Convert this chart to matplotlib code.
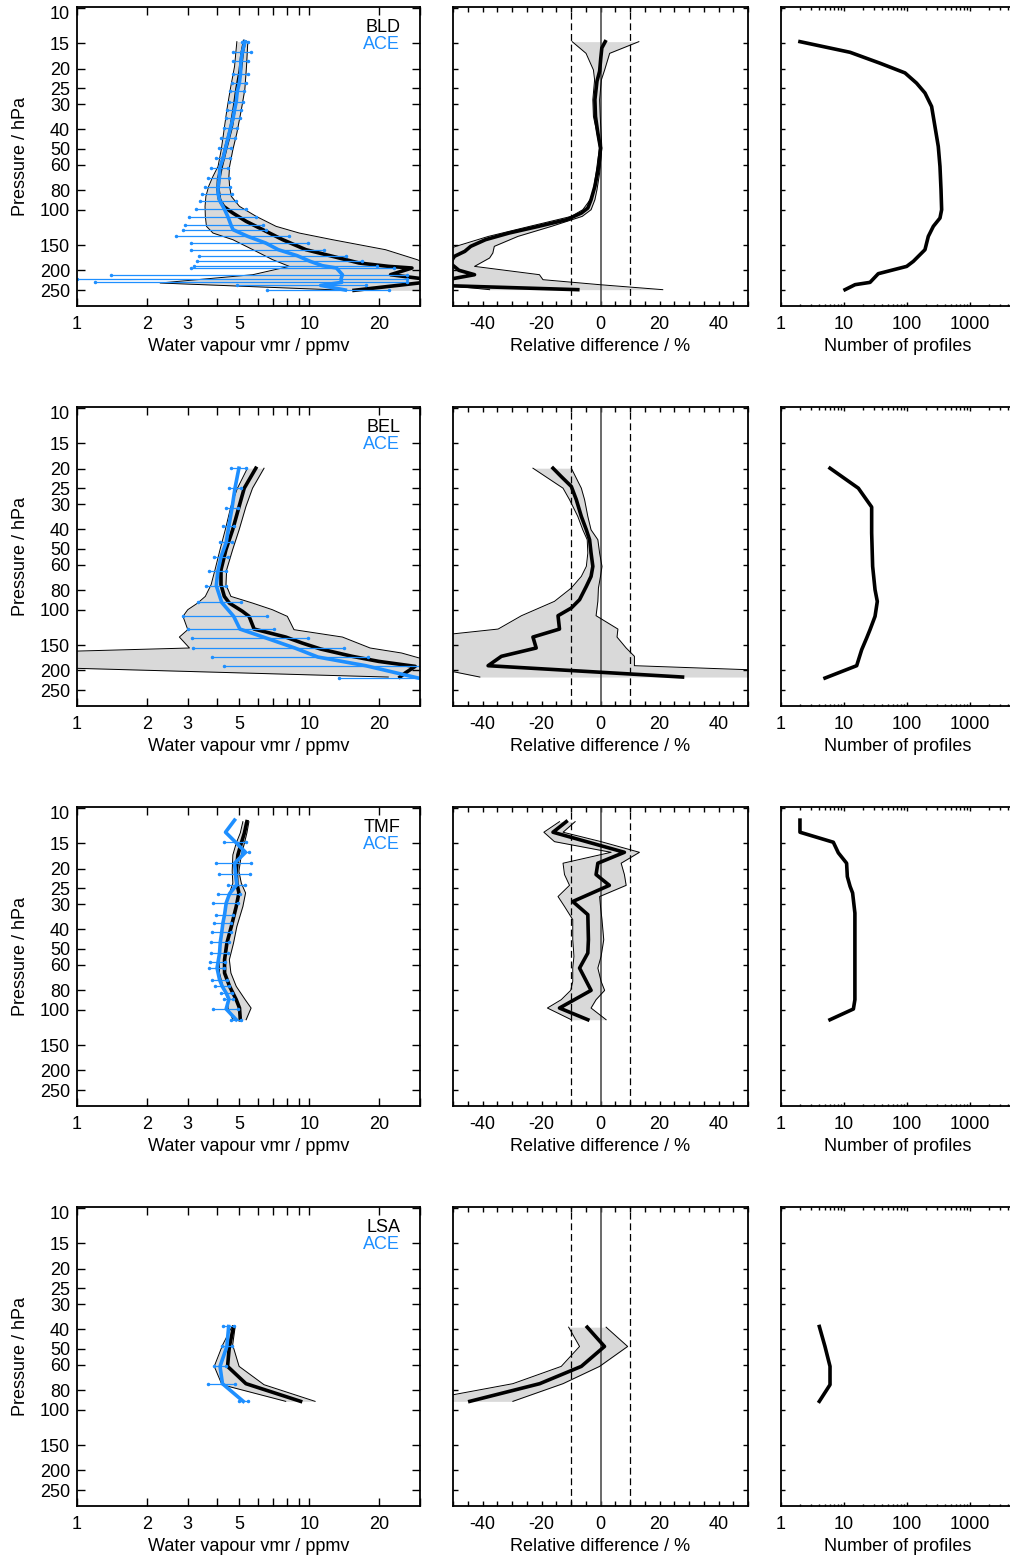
"""
Ground-based vs ACE water vapour comparison: mean profiles, relative
differences and number of coincident profiles for four stations.
"""
import matplotlib
matplotlib.use("Agg")
import matplotlib.pyplot as plt
from matplotlib.ticker import FixedLocator, FixedFormatter, NullLocator, NullFormatter

plt.rcParams.update({"font.family": ["Liberation Sans", "DejaVu Sans"], "font.size": 13})

BLUE = "#1e8fff"
GREY = "#d9d9d9"

# ---- BLD -----------------------------------------------------------------
bld_p = [14.7, 16.8, 20.3, 25.4, 30.8, 38.7, 48.6, 61.0, 71.0, 79.6, 89.2, 96.3, 103.9, 114.2,
         125.6, 140.8, 157.8, 170.2, 183.7, 190.9, 194.5, 209.9, 225.0, 250.9]
bld_vmr = [5.26, 5.14, 5.05, 4.88, 4.77, 4.62, 4.39, 4.18, 4.07, 4.05, 4.11, 4.28, 4.69, 5.35,
           6.31, 7.69, 9.68, 12.6, 16.4, 22.0, 27.7, 22.4, 36.0, 15.6]
bld_band_p = [14.7, 19.5, 25.4, 32.0, 41.7, 50.4, 61.0, 68.4, 76.6, 85.9, 96.3, 107.9, 120.9,
              130.5, 140.8, 157.8, 176.9, 190.9, 209.9, 230.8, 250.9]
bld_band_lo = [4.88, 4.77, 4.57, 4.42, 4.28, 4.18, 4.05, 3.85, 3.69, 3.59, 3.56, 3.57, 3.61,
               3.85, 4.69, 5.72, 6.96, 8.21, 5.72, 2.28, 14.5]
bld_band_hi = [5.44, 5.37, 5.28, 5.10, 4.88, 4.69, 4.54, 4.51, 4.54, 4.62, 5.01, 5.91, 7.2,
               9.06, 12.6, 21.3, 29.2, 34.0, 40.0, 40.0, 38.0]
bld_ace_p = [14.7, 16.6, 18.4, 21.2, 23.6, 25.9, 29.1, 32.0, 35.2, 39.4, 44.2, 49.5, 55.5, 62.2,
             69.7, 77.2, 83.3, 90.2, 99.2, 108.7, 119.6, 125.6, 135.6, 146.3, 157.8, 169.0,
             180.3, 189.4, 194.5, 209.9, 220.5, 229.1, 237.1, 250.0]
bld_ace_vmr = [5.29, 5.15, 5.08, 5.06, 5.0, 4.9, 4.85, 4.77, 4.70, 4.58, 4.47, 4.36, 4.26, 4.12,
               4.1, 4.05, 4.05, 4.12, 4.31, 4.47, 4.61, 4.7, 5.44, 6.5, 7.36, 8.88, 10.1, 11.4,
               13.1, 13.9, 13.7, 13.8, 11.2, 14.3]
bld_ace_sd = [0.15, 0.47, 0.36, 0.37, 0.35, 0.36, 0.33, 0.33, 0.31, 0.30, 0.30, 0.26, 0.28, 0.33,
              0.43, 0.5, 0.58, 0.72, 1.04, 1.43, 1.7, 1.83, 2.77, 3.4, 4.25, 5.52, 6.8, 8.2,
              10.0, 12.5, 12.7, 12.6, 6.3, 7.7]
bld_diff_p = [14.7, 15.8, 17.7, 20.6, 23.1, 28.5, 34.5, 41.7, 49.5, 61.0, 76.6, 89.2, 98.1, 103.9,
              112.1, 120.9, 130.5, 140.8, 151.9, 160.8, 170.2, 183.7, 199.6, 209.9, 222.2,
              237.9, 249.0]
bld_diff = [1.6, 0.45, 0.1, -0.3, -1.2, -1.9, -1.7, -0.9, 0.0, -0.6, -1.9, -3.2, -4.3, -6.5,
            -11.5, -21.0, -31.0, -39.0, -44.0, -46.0, -49.5, -51.0, -48.0, -42.7, -52.0, -52.0,
            -7.7]
bld_dband_p = [14.7, 16.8, 20.3, 22.7, 28.5, 34.5, 41.7, 49.5, 56.5, 65.8, 79.6, 89.2, 100.0,
               107.9, 120.9, 135.6, 151.9, 163.9, 173.5, 190.9, 209.9, 222.2, 235.2, 249.0]
bld_dband_lo = [-9.6, -4.9, -2.4, -2.0, -2.6, -2.4, -1.2, -0.3, -0.9, -1.5, -2.4, -3.5, -6.0,
                -9.9, -24.0, -38.0, -49.0, -55, -55, -55, -55, -55, -55, -37.6]
bld_dband_hi = [13.0, 3.1, 1.4, 0.3, -0.3, -0.1, 0.2, 0.45, 0.1, -0.3, -1.2, -1.9, -3.2, -6.2,
                -16.6, -28.0, -36.0, -36.5, -37.6, -42.7, -20.7, -19.5, -0.3, 21.1]
bld_n_p = [14.7, 16.6, 18.8, 21.0, 23.6, 26.4, 30.8, 38.7, 48.6, 61.0, 79.6, 100.0, 110.0, 120.9,
           135.6, 157.8, 167.0, 180.3, 190.9, 207.5, 229.1, 235.2, 249.0]
bld_n = [2.0, 12.5, 37.3, 93, 142, 193, 246, 278, 314, 334, 347, 355, 334, 262, 218, 193, 161,
         126, 99, 35, 25.9, 15, 10.4]

# ---- BEL -----------------------------------------------------------------
bel_p = [19.9, 25.0, 30.8, 40.2, 50.4, 63.4, 75.2, 85.9, 92.7, 101.9, 107.9, 124.7, 136.6, 146.3,
         156.6, 170.2, 180.3, 190.9, 205.9, 215.6]
bel_vmr = [5.89, 5.25, 4.99, 4.68, 4.38, 4.17, 4.17, 4.31, 4.53, 5.16, 5.51, 5.79, 7.92, 9.33,
           11.2, 15.3, 19.9, 28.6, 25.9, 24.6]
bel_band_p = [19.9, 25.0, 30.8, 40.2, 50.4, 63.4, 75.2, 85.9, 92.7, 100.0, 107.9, 125.6, 136.6,
              154.8, 163.9, 190.9, 215.6]
bel_band_lo = [5.42, 4.91, 4.60, 4.35, 4.13, 3.93, 3.78, 3.57, 3.31, 3.0, 2.86, 3.0, 2.76, 3.05,
               0.5, 0.5, 21.9]
bel_band_hi = [6.39, 5.70, 5.34, 4.99, 4.68, 4.41, 4.38, 4.60, 5.70, 6.94, 8.05, 8.60, 13.9, 18.3,
               25.0, 40.0, 40.0]
bel_ace_p = [19.9, 25.0, 31.4, 38.4, 46.4, 54.8, 64.6, 76.1, 92.0, 107.9, 124.7, 138.1, 154.8,
             171.6, 189.4, 218.1]
bel_ace_vmr = [4.98, 4.79, 4.65, 4.51, 4.39, 4.17, 4.04, 3.98, 4.2, 4.73, 5.03, 6.52, 8.67, 10.9,
               17.5, 29.5]
bel_ace_sd = [0.36, 0.29, 0.27, 0.24, 0.26, 0.29, 0.35, 0.4, 0.89, 1.87, 2.03, 3.39, 5.5, 7.1,
              13.2, 16.0]
bel_diff_p = [19.9, 21.9, 24.5, 28.5, 34.5, 40.2, 45.0, 52.4, 61.0, 68.4, 76.6, 89.2, 98.1, 107.1,
              124.7, 136.6, 154.8, 170.2, 189.4, 215.6]
bel_diff = [-16.1, -13.3, -9.9, -8.2, -6.5, -4.8, -3.7, -3.2, -2.6, -3.2, -4.8, -7.1, -9.9, -14.4,
            -13.9, -22.9, -21.8, -33.6, -38.1, 27.8]
bel_dband_p = [19.9, 25.0, 28.5, 34.5, 40.2, 45.0, 52.4, 61.0, 68.4, 78.1, 90.9, 107.1, 124.7,
               136.6, 154.8, 170.2, 189.4, 215.6]
bel_dband_lo = [-22.9, -12.7, -10.5, -7.7, -6.0, -4.5, -4.3, -4.8, -6.5, -9.9, -15.6, -26.8,
                -34.7, -60, -60, -60, -60, -40.9]
bel_dband_hi = [-9.9, -6.5, -5.4, -4.3, -3.2, -0.9, -0.3, 0.5, 0.0, -0.7, -0.9, -1.5, 5.9, 5.6,
                8.7, 11.5, 11.5, 120]
bel_n_p = [19.9, 25.0, 31.0, 41.7, 61.0, 79.6, 91.0, 107.9, 125.6, 138.1, 157.8, 189.4, 218.1]
bel_n = [6.0, 16.9, 27.5, 27.5, 28.5, 31.1, 33.8, 31.1, 25.9, 22.9, 19.1, 15.9, 5.0]

# ---- TMF -----------------------------------------------------------------
tmf_p = [11.7, 13.3, 14.95, 17.1, 20.6, 23.6, 26.4, 30.8, 38.7, 46.8, 56.5, 65.8, 76.6, 89.2,
         98.1, 112.1]
tmf_vmr = [5.39, 5.26, 5.10, 4.93, 4.85, 4.88, 4.98, 4.85, 4.62, 4.42, 4.32, 4.32, 4.54, 4.85,
           5.01, 5.05]
tmf_band_p = [11.7, 13.3, 14.95, 17.1, 20.6, 23.6, 26.4, 30.8, 38.7, 46.8, 56.5, 65.8, 76.6, 89.2,
              98.1, 112.1]
tmf_band_lo = [5.18, 5.05, 4.85, 4.69, 4.66, 4.69, 4.54, 4.39, 4.25, 4.14, 4.09, 4.11, 4.25, 4.47,
               4.47, 4.69]
tmf_band_hi = [5.50, 5.39, 5.26, 5.10, 4.98, 5.10, 5.32, 5.18, 4.88, 4.72, 4.53, 4.6, 4.85, 5.3,
               5.62, 5.35]
tmf_ace_p = [11.5, 13.2, 14.8, 16.6, 18.8, 21.2, 24.0, 26.6, 29.6, 33.8, 37.2, 41.4, 46.4, 52.4,
             58.0, 62.2, 71.0, 76.6, 82.7, 88.5, 99.2, 112.1]
tmf_ace_vmr = [4.77, 4.36, 4.82, 5.32, 4.77, 4.82, 4.88, 4.54, 4.39, 4.32, 4.25, 4.20, 4.14, 4.11,
               4.05, 4.01, 4.11, 4.22, 4.39, 4.51, 4.39, 4.85]
tmf_ace_sd = [0.0, 0.0, 0.54, 0.2, 0.82, 0.74, 0.42, 0.51, 0.53, 0.36, 0.37, 0.4, 0.37, 0.35, 0.3,
              0.3, 0.3, 0.28, 0.24, 0.2, 0.55, 0.23]
tmf_diff_p = [11.7, 13.2, 16.6, 18.8, 21.4, 24.2, 29.1, 33.8, 45.0, 52.4, 62.2, 80.2, 98.1, 112.1]
tmf_diff = [-11.6, -16.1, 8.1, -0.9, -1.5, 3.0, -9.4, -4.3, -4.1, -4.3, -7.1, -3.2, -13.9, -4.3]
tmf_dband_p = [11.7, 13.2, 14.7, 16.6, 18.8, 21.4, 24.2, 27.5, 30.8, 35.8, 45.0, 54.4, 62.2, 72.4,
               80.2, 89.2, 98.1, 112.1]
tmf_dband_lo = [-13.9, -19.2, -15.6, 3.6, -12.7, -12.2, -10.5, -14.4, -12.2, -9.4, -9.4, -9.0,
                -9.4, -9.4, -10.1, -13.3, -18.0, -9.9]
tmf_dband_hi = [-8.6, -12.7, 0.2, 13.2, 7.0, 8.1, 8.7, -0.3, 0.0, 0.5, 1.1, 0.2, -0.9, 0.2, 1.4,
                -1.5, -3.2, 1.9]
tmf_n_p = [11.5, 13.2, 14.8, 16.7, 18.8, 21.9, 24.5, 26.4, 33.2, 41.7, 61.0, 89.2, 99.2, 112.1]
tmf_n = [2.0, 2.0, 6.77, 8.13, 11.0, 11.3, 12.5, 13.7, 14.9, 14.9, 14.9, 14.9, 14.1, 6.0]

# ---- LSA -----------------------------------------------------------------
lsa_p = [39.0, 48.6, 61.0, 74.3, 90.9]
lsa_vmr = [4.72, 4.53, 4.45, 5.34, 9.18]
lsa_band_p = [38.7, 47.7, 61.0, 75.2, 90.9]
lsa_band_lo = [4.65, 4.24, 3.90, 4.21, 7.92]
lsa_band_hi = [4.80, 4.68, 4.99, 6.39, 10.6]
lsa_ace_p = [38.7, 48.6, 61.0, 74.3, 90.9]
lsa_ace_vmr = [4.5, 4.42, 4.13, 4.23, 5.2]
lsa_ace_sd = [0.26, 0.21, 0.25, 0.57, 0.23]
lsa_diff_p = [39.0, 48.6, 61.0, 74.3, 90.9]
lsa_diff = [-4.5, 1.35, -6.5, -20.6, -44.3]
lsa_dband_p = [39.0, 48.6, 61.0, 74.3, 90.9]
lsa_dband_lo = [-10.8, -7.1, -13.3, -29.7, -62]
lsa_dband_hi = [1.9, 9.2, -0.3, -12.7, -29.7]
lsa_n_p = [38.7, 48.6, 61.0, 75.2, 90.9]
lsa_n = [4.06, 4.99, 6.0, 6.0, 4.06]

stations = [
    ("BLD", bld_p, bld_vmr, bld_band_p, bld_band_lo, bld_band_hi, bld_ace_p, bld_ace_vmr, bld_ace_sd,
     bld_diff_p, bld_diff, bld_dband_p, bld_dband_lo, bld_dband_hi, bld_n_p, bld_n),
    ("BEL", bel_p, bel_vmr, bel_band_p, bel_band_lo, bel_band_hi, bel_ace_p, bel_ace_vmr, bel_ace_sd,
     bel_diff_p, bel_diff, bel_dband_p, bel_dband_lo, bel_dband_hi, bel_n_p, bel_n),
    ("TMF", tmf_p, tmf_vmr, tmf_band_p, tmf_band_lo, tmf_band_hi, tmf_ace_p, tmf_ace_vmr, tmf_ace_sd,
     tmf_diff_p, tmf_diff, tmf_dband_p, tmf_dband_lo, tmf_dband_hi, tmf_n_p, tmf_n),
    ("LSA", lsa_p, lsa_vmr, lsa_band_p, lsa_band_lo, lsa_band_hi, lsa_ace_p, lsa_ace_vmr, lsa_ace_sd,
     lsa_diff_p, lsa_diff, lsa_dband_p, lsa_dband_lo, lsa_dband_hi, lsa_n_p, lsa_n),
]

p_ticks = [10, 15, 20, 25, 30, 40, 50, 60, 80, 100, 150, 200, 250]
vmr_ticks = [1, 2, 3, 4, 5, 6, 7, 8, 9, 10, 20, 30]
vmr_labels = ["1", "2", "3", "", "5", "", "", "", "", "10", "20", ""]
diff_ticks = list(range(-50, 55, 5))
diff_labels = [str(t) if t in (-40, -20, 0, 20, 40) else "" for t in diff_ticks]
n_ticks = [1, 10, 100, 1000]
n_minor = [m * 10 ** e for e in range(4) for m in range(2, 10)]

W, H = 1010, 1557
fig = plt.figure(figsize=(W / 100, H / 100), dpi=100)


def add_ax(x0, y0, w, h):
    return fig.add_axes([x0 / W, 1 - (y0 + h) / H, w / W, h / H])


def style(ax, tick_len, ylabels):
    ax.set_yscale("log")
    ax.set_ylim(300, 9.9)
    ax.yaxis.set_major_locator(FixedLocator(p_ticks))
    ax.yaxis.set_minor_locator(NullLocator())
    if ylabels:
        # the top label "10" sits a little below its tick, drawn separately
        ax.yaxis.set_major_formatter(FixedFormatter([""] + [str(t) for t in p_ticks[1:]]))
        ax.annotate("10", xy=(0, p_ticks[0]), xycoords=("axes fraction", "data"),
                    xytext=(-5, -4.5), textcoords="offset points", ha="right", va="center")
        ax.set_ylabel("Pressure / hPa", labelpad=8)
    else:
        ax.yaxis.set_major_formatter(NullFormatter())
    ax.tick_params(which="both", direction="in", top=True, right=True, width=1.0)
    ax.tick_params(which="major", length=tick_len)
    ax.tick_params(axis="x", pad=7.5)
    ax.tick_params(axis="y", pad=5)
    for s in ax.spines.values():
        s.set_linewidth(1.3)


for i, (name, gp, gv, bp, blo, bhi, ap, av, asd, dp, dv, dbp, dblo, dbhi, npr, nv) in enumerate(stations):
    top = 7 + 400 * i

    # water vapour profiles
    ax = add_ax(77, top, 343, 299)
    ax.set_xscale("log")
    ax.set_xlim(1, 30)
    ax.xaxis.set_major_locator(FixedLocator(vmr_ticks))
    ax.xaxis.set_major_formatter(FixedFormatter(vmr_labels))
    ax.xaxis.set_minor_locator(NullLocator())
    style(ax, 5.8, True)
    ax.fill_betweenx(bp, blo, bhi, color=GREY, lw=0)
    ax.plot(blo, bp, color="k", lw=0.7)
    ax.plot(bhi, bp, color="k", lw=0.7)
    ax.plot(gv, gp, color="k", lw=2.6)
    bars = [(p, m - s, m + s) for p, m, s in zip(ap, av, asd) if s > 0]
    ax.hlines([b[0] for b in bars], [b[1] for b in bars], [b[2] for b in bars], color=BLUE, lw=0.9)
    ax.plot([b[1] for b in bars] + [b[2] for b in bars], [b[0] for b in bars] * 2,
            ls="none", marker="o", ms=1.5, color=BLUE)
    ax.plot(av, ap, color=BLUE, lw=2.6)
    ax.text(0.942, 0.933, name, transform=ax.transAxes, ha="right", va="center", color="k")
    ax.text(0.942, 0.876, "ACE", transform=ax.transAxes, ha="right", va="center", color=BLUE)
    ax.set_xlabel("Water vapour vmr / ppmv", labelpad=3)

    # relative difference
    ax = add_ax(453, top, 295, 299)
    ax.set_xlim(-50, 50)
    ax.xaxis.set_major_locator(FixedLocator(diff_ticks))
    ax.xaxis.set_major_formatter(FixedFormatter(diff_labels))
    style(ax, 3.6, False)
    ax.fill_betweenx(dbp, dblo, dbhi, color=GREY, lw=0)
    ax.axvline(0, color="#505050", lw=1.2)
    ax.axvline(-10, color="k", lw=0.9, ls=(0, (5.5, 3)))
    ax.axvline(10, color="k", lw=0.9, ls=(0, (5.5, 3)))
    ax.plot(dblo, dbp, color="k", lw=0.7)
    ax.plot(dbhi, dbp, color="k", lw=0.7)
    ax.plot(dv, dp, color="k", lw=2.6)
    ax.set_xlabel("Relative difference / %", labelpad=3)

    # number of profiles
    ax = add_ax(781, top, 233, 299)
    ax.set_xscale("log")
    ax.set_xlim(1, 5000)
    ax.xaxis.set_major_locator(FixedLocator(n_ticks))
    ax.xaxis.set_major_formatter(FixedFormatter([str(t) for t in n_ticks]))
    ax.xaxis.set_minor_locator(FixedLocator(n_minor))
    ax.xaxis.set_minor_formatter(NullFormatter())
    style(ax, 3.0, False)
    ax.tick_params(which="minor", length=1.8)
    ax.plot(nv, npr, color="k", lw=2.6)
    ax.set_xlabel("Number of profiles", labelpad=3)

fig.savefig("out.png", dpi=100)
